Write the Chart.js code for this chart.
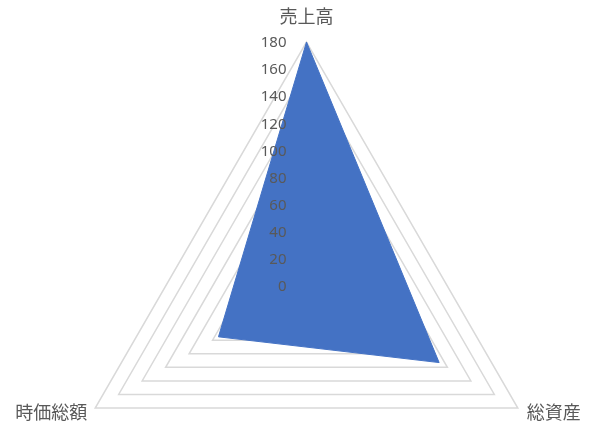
<!DOCTYPE html>
<html lang="ja">
<head>
<meta charset="utf-8">
<title>レーダーチャート</title>
<script src="https://cdn.jsdelivr.net/npm/chart.js@4.4.1/dist/chart.umd.min.js"></script>
<style>
    html, body { margin: 0; padding: 0; background: #fff; }
    #wrap { position: relative; width: 601px; height: 433px; }
</style>
</head>
<body>
<div id="wrap"><canvas id="radarChart"></canvas></div>
<script>
// データ
const categories = ['売上高', '総資産', '時価総額'];
const values = [180, 113, 75];
const tickValues = [0, 20, 40, 60, 80, 100, 120, 140, 160, 180];

const textColor = '#595959';

// 目盛りラベルと項目ラベルはデータの上に描く（Excel風）
const radarText = {
    id: 'radarText',
    afterDatasetsDraw(chart) {
        const r = chart.scales.r;
        const ctx = chart.ctx;
        ctx.save();
        ctx.fillStyle = textColor;

        // 目盛り
        ctx.font = '15px "Noto Sans", sans-serif';
        ctx.textAlign = 'right';
        ctx.textBaseline = 'middle';
        r.ticks.forEach(t => {
            const d = r.getDistanceFromCenterForValue(t.value);
            ctx.fillText(t.label, r.xCenter - 20, r.yCenter - d + 1);
        });

        // 項目名
        ctx.font = '18px "Noto Sans CJK JP", sans-serif';
        chart.data.labels.forEach((label, i) => {
            const p = r.getPointPosition(i, r.drawingArea);
            if (p.x > r.xCenter + 1) {
                ctx.textAlign = 'left';
                ctx.fillText(label, p.x + 9, p.y + 4);
            } else if (p.x < r.xCenter - 1) {
                ctx.textAlign = 'right';
                ctx.fillText(label, p.x - 8, p.y + 4);
            } else {
                ctx.textAlign = 'center';
                ctx.fillText(label, p.x, p.y - 26);
            }
        });
        ctx.restore();
    }
};

new Chart(document.getElementById('radarChart'), {
    type: 'radar',
    data: {
        labels: categories,
        datasets: [{
            label: '値',
            data: values,
            backgroundColor: '#4472C4',
            borderColor: '#4472C4',
            borderWidth: 1,
            pointRadius: 0,
            fill: true
        }]
    },
    options: {
        responsive: true,
        maintainAspectRatio: false,
        animation: false,
        plugins: {
            legend: { display: false },
            tooltip: { enabled: false }
        },
        scales: {
            r: {
                min: tickValues[0],
                max: tickValues[tickValues.length - 1],
                ticks: {
                    stepSize: tickValues[1] - tickValues[0],
                    display: false
                },
                grid: {
                    color: '#d9d9d9',
                    lineWidth: 1.5
                },
                angleLines: { display: false },
                pointLabels: { display: false },
                // 三角形の位置と大きさを参照画像に合わせる
                afterFit: function(scale) {
                    scale.xCenter = 306.5;
                    scale.yCenter = 286;
                    scale.drawingArea = 244;
                }
            }
        }
    },
    plugins: [radarText]
});
</script>
</body>
</html>
